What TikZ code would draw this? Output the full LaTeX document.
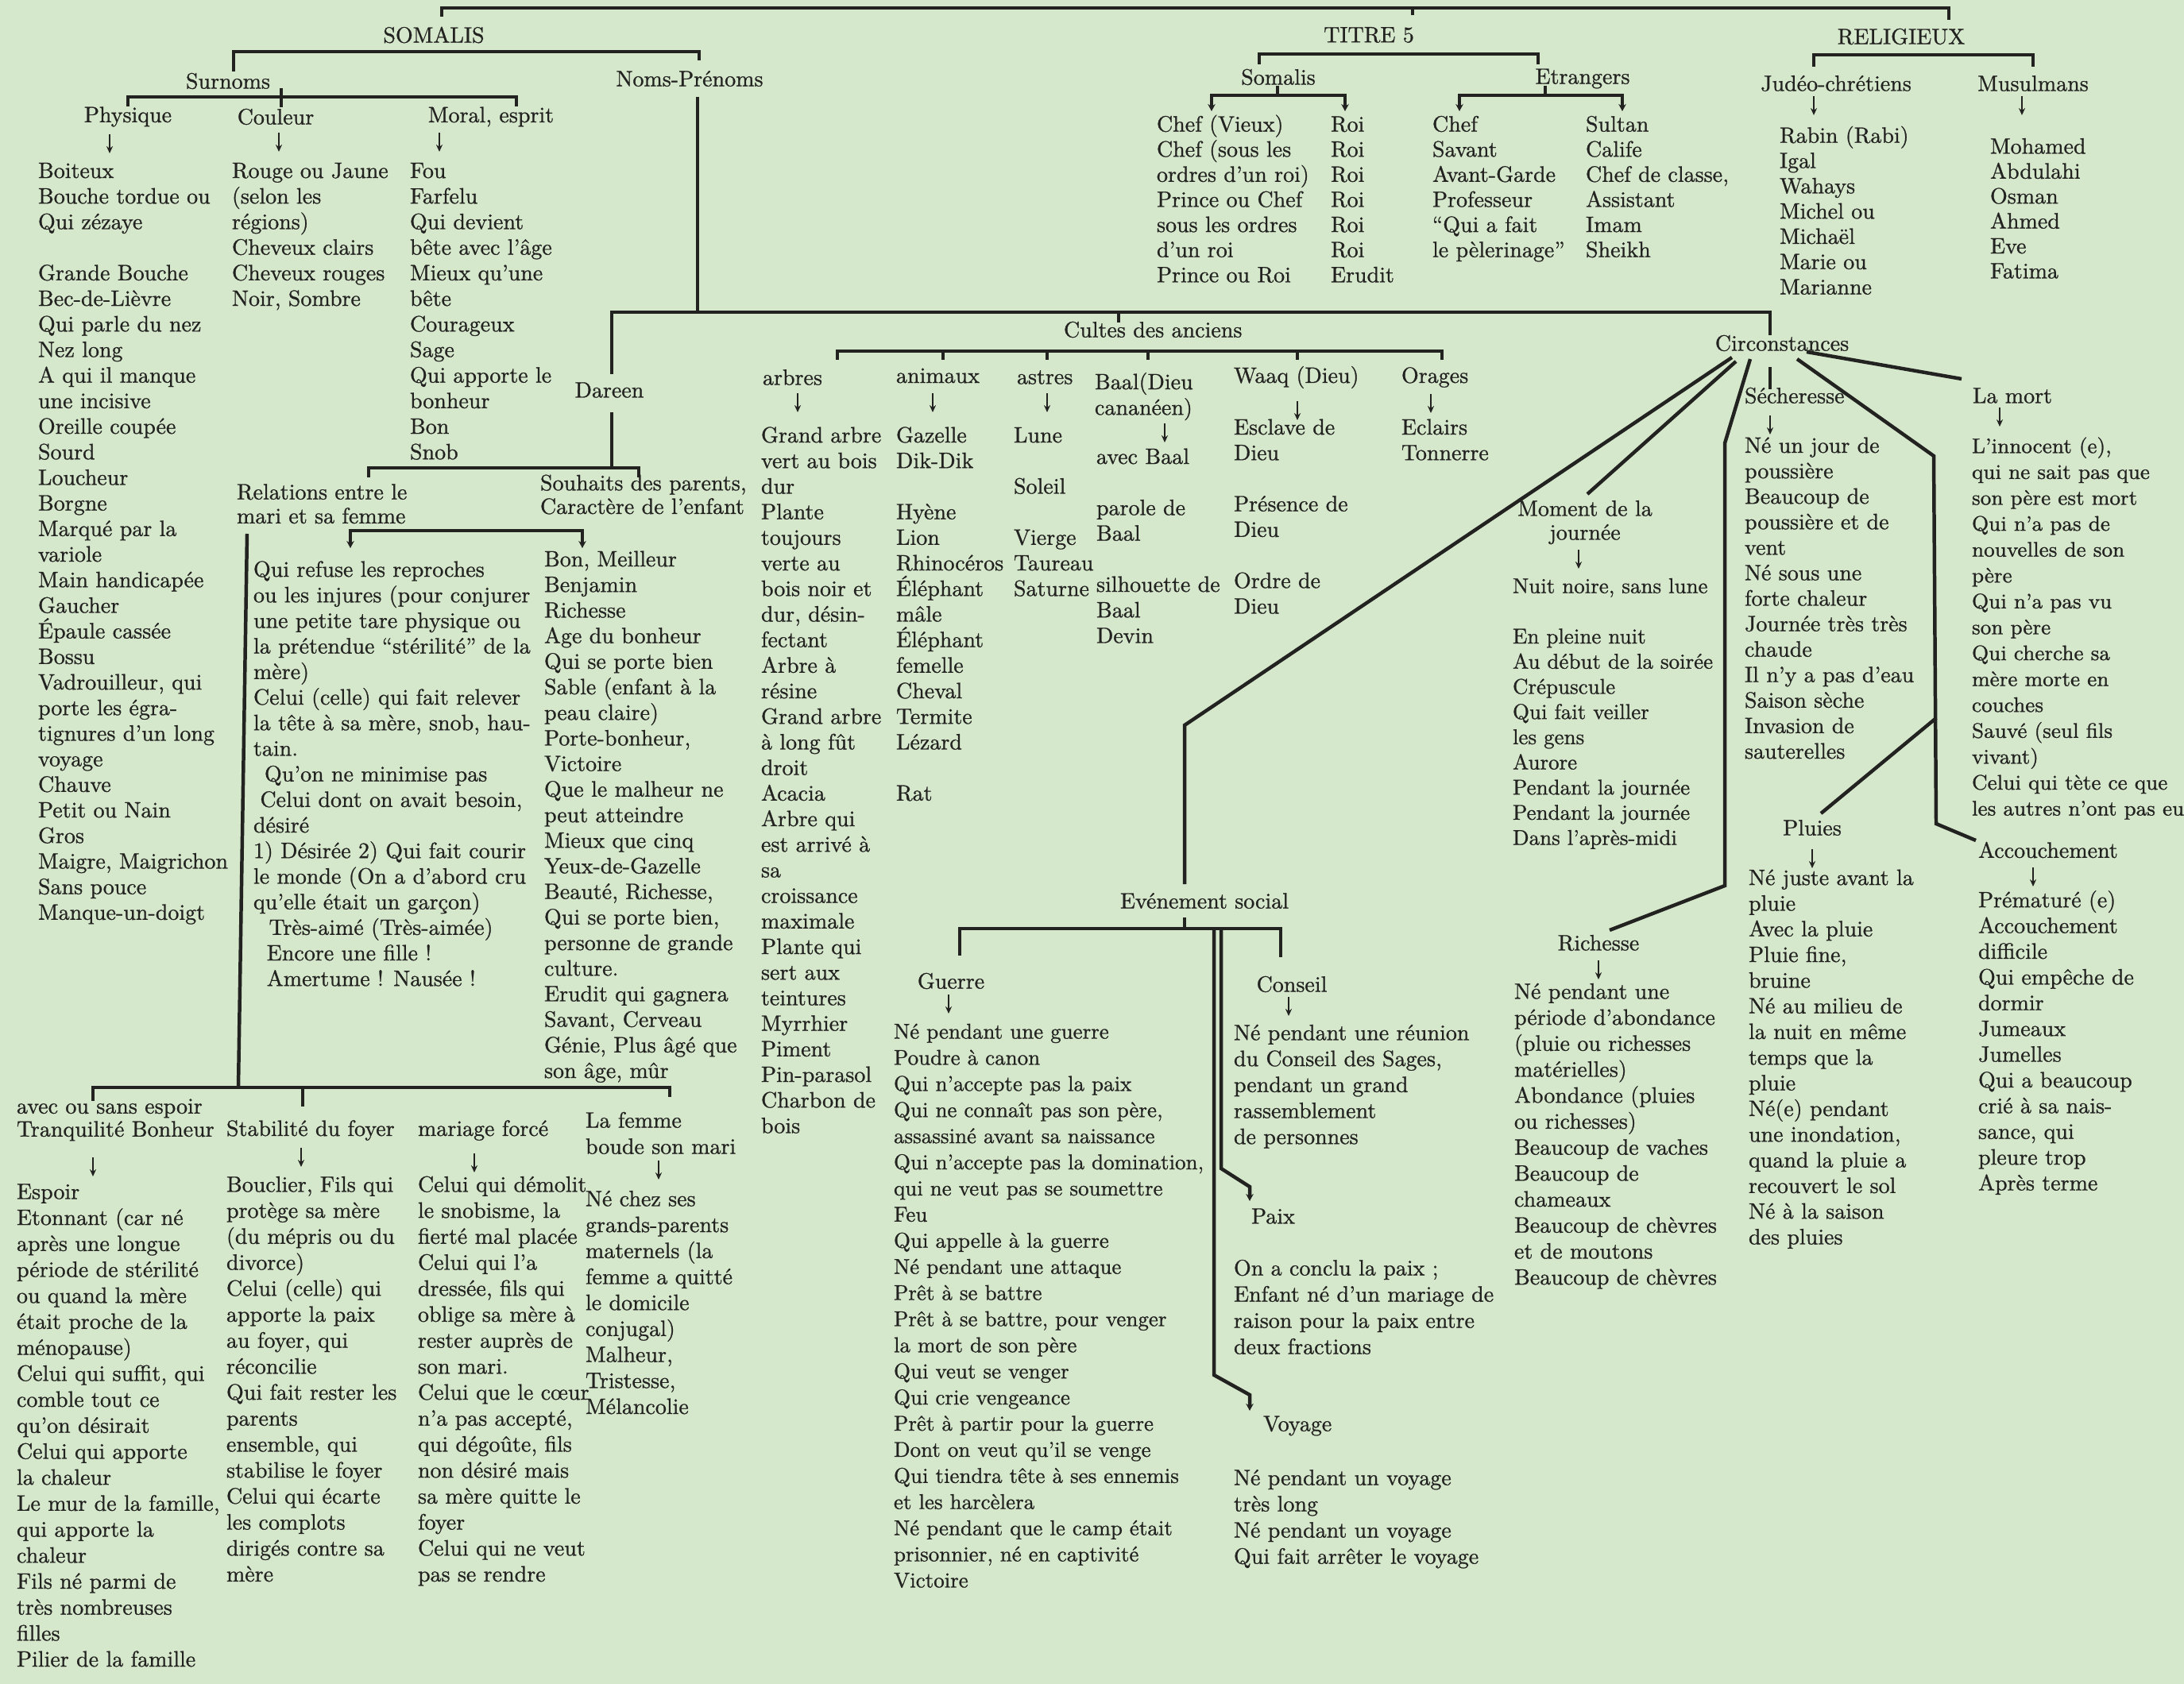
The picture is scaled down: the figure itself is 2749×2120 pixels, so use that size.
\documentclass[tikz,border=0pt]{standalone}
\usepackage{fontspec}
\setmainfont{Latin Modern Roman}[RawFeature={embolden=0.9}]
\usetikzlibrary{arrows.meta}
\definecolor{bg}{HTML}{D6E8CC}
\definecolor{ink}{HTML}{222220}
\newcommand\dnarrow[2]{\draw[arr] (#1,#2-12) -- (#1,#2+12);}
\tikzset{
  sz/.style 2 args={font={\fontsize{#1}{#2}\selectfont\lineskiplimit=-100pt}},
  txt/.style={sz={10}{11.5}, text=ink, inner sep=0pt, outer sep=0pt},
  lst/.style={txt, align=left, anchor=north west, yshift=5.18pt},
  lstc/.style={txt, align=center, anchor=north, yshift=5.18pt},
  hd/.style={txt, anchor=center},
  hdw/.style={txt, anchor=west},
  ln/.style={draw=ink, line width=1.6pt, line join=miter},
  tip/.style={arrows={-Stealth[length=3.2pt,width=3.4pt]}},
  tips/.style={arrows={Stealth[length=3.2pt,width=3.4pt]-Stealth[length=3.2pt,width=3.4pt]}},
  arr/.style={draw=ink, line width=0.8pt, arrows={-Stealth[length=3.2pt,width=2.9pt]}},
}
\begin{document}
\begin{tikzpicture}[x=0.35714pt,y=-0.35714pt]
\path[use as bounding box, fill=bg] (0,0) rectangle (2749,2120);

% ---------- top level ----------
\draw[ln] (556,21) -- (556,10) -- (2453,10) -- (2453,25);
\draw[ln] (1778,10) -- (1778,19);
\node[hd] (somalis) at (546,44) {SOMALIS};
\node[hd] (titre) at (1723,44) {TITRE 5};
\node[hd] (relig) at (2393,46) {RELIGIEUX};

% ---------- SOMALIS ----------
\draw[ln] (294,90) -- (294,65) -- (880,65) -- (880,76);
\node[hd] (surnoms) at (287,102) {Surnoms};
\node[hd] (noms) at (868,99) {Noms-Prénoms};
\draw[ln] (161,134) -- (161,122) -- (650,122) -- (650,134);
\draw[ln] (354,111) -- (354,135);
\node[hd] (phys) at (161,147) {Physique};
\node[hd] (coul) at (347,147) {Couleur};
\node[hd] (moral) at (618,147) {Moral, esprit};
\dnarrow{138}{181}
\dnarrow{351}{179}
\dnarrow{553}{179}

\node[lst] (physL) at (48,216) {\strut Boiteux\\Bouche tordue ou\\Qui zézaye\\\mbox{}\\Grande Bouche\\Bec-de-Lièvre\\Qui parle du nez\\Nez long\\A qui il manque\\une incisive\\Oreille coupée\\Sourd\\Loucheur\\Borgne\\Marqué par la\\variole\\Main handicapée\\Gaucher\\Épaule cassée\\Bossu\\Vadrouilleur, qui\\porte les égra-\\tignures d'un long\\voyage\\Chauve\\Petit ou Nain\\Gros\\Maigre, Maigrichon\\Sans pouce\\Manque-un-doigt};
\node[lst] (coulL) at (292,216) {\strut Rouge ou Jaune\\(selon les\\régions)\\Cheveux clairs\\Cheveux rouges\\Noir, Sombre};
\node[lst] (moralL) at (516,216) {\strut Fou\\Farfelu\\Qui devient\\bête avec l'âge\\Mieux qu'une\\bête\\Courageux\\Sage\\Qui apporte le\\bonheur\\Bon\\Snob};

% ---------- Noms-Prenoms trunk ----------
\draw[ln] (878,122) -- (878,393);
\draw[ln] (770,471) -- (770,393) -- (2228,393) -- (2228,422);
\draw[ln] (1408,393) -- (1408,406);
\node[hdw] (cultes) at (1339,415) {Cultes des anciens};

% ---------- Dareen ----------
\node[hd] (dareen) at (767,491) {Dareen};
\draw[ln] (770,519) -- (770,589);
\draw[ln] (464,601) -- (464,589) -- (804,589) -- (804,601);
\node[lst, sz={10}{10.8}] (relat) at (298,622) {\strut Relations entre le\\mari et sa femme};
\node[lst, sz={10}{10.6}] (souh) at (680,611) {\strut Souhaits des parents,\\Caractère de l'enfant};
\draw[ln, tips] (441,690) -- (441,668) -- (733,668) -- (733,690);

\node[lst] (relL) at (319,718) {\strut Qui refuse les reproches\\ou les injures (pour conjurer\\une petite tare physique ou\\la prétendue “stérilité” de la\\mère)\\Celui (celle) qui fait relever\\la tête à sa mère, snob, hau-\\tain.\\\hspace*{5pt}Qu'on ne minimise pas\\\hspace*{3pt}Celui dont on avait besoin,\\désiré\\1) Désirée 2) Qui fait courir\\le monde (On a d'abord cru\\qu'elle était un garçon)\\\hspace*{7pt}Très-aimé (Très-aimée)\\\hspace*{6pt}Encore une fille !\\\hspace*{6pt}Amertume ! Nausée !};
\node[lst] (souL) at (685,705) {\strut Bon, Meilleur\\Benjamin\\Richesse\\Age du bonheur\\Qui se porte bien\\Sable (enfant à la\\peau claire)\\Porte-bonheur,\\Victoire\\Que le malheur ne\\peut atteindre\\Mieux que cinq\\Yeux-de-Gazelle\\Beauté, Richesse,\\Qui se porte bien,\\personne de grande\\culture.\\Erudit qui gagnera\\Savant, Cerveau\\Génie, Plus âgé que\\son âge, mûr};

% ---------- lower-left bracket ----------
\draw[ln] (311,672) -- (300,1369);
\draw[ln] (117,1386) -- (117,1369) -- (843,1369) -- (843,1381);
\draw[ln] (381,1369) -- (381,1393);
\node[lst, sz={10}{10.36}] (avec) at (21,1396) {\strut avec ou sans espoir\\Tranquilité Bonheur};
\dnarrow{117}{1469}
\node[lst, sz={10}{11.68}] (espL) at (21,1501) {\strut Espoir\\Etonnant (car né\\après une longue\\période de stérilité\\ou quand la mère\\était proche de la\\ménopause)\\Celui qui suffit, qui\\comble tout ce\\qu'on désirait\\Celui qui apporte\\la chaleur\\Le mur de la famille,\\qui apporte la\\chaleur\\Fils né parmi de\\très nombreuses\\filles\\Pilier de la famille};
\node[hdw] (stab) at (285,1423) {Stabilité du foyer};
\dnarrow{379}{1457}
\node[lst, sz={10}{11.68}] (stabL) at (285,1492) {\strut Bouclier, Fils qui\\protège sa mère\\(du mépris ou du\\divorce)\\Celui (celle) qui\\apporte la paix\\au foyer, qui\\réconcilie\\Qui fait rester les\\parents\\ensemble, qui\\stabilise le foyer\\Celui qui écarte\\les complots\\dirigés contre sa\\mère};
\node[hdw] (mar) at (526,1423) {mariage forcé};
\dnarrow{597}{1464}
\node[lst, sz={10}{11.68}] (marL) at (526,1492) {\strut Celui qui démolit\\le snobisme, la\\fierté mal placée\\Celui qui l'a\\dressée, fils qui\\oblige sa mère à\\rester auprès de\\son mari.\\Celui que le cœur\\n'a pas accepté,\\qui dégoûte, fils\\non désiré mais\\sa mère quitte le\\foyer\\Celui qui ne veut\\pas se rendre};
\node[lst, sz={10}{11.79}] (femme) at (737,1411) {\strut La femme\\boude son mari};
\dnarrow{829}{1473}
\node[lst, sz={10}{11.68}] (femL) at (737,1510) {\strut Né chez ses\\grands-parents\\maternels (la\\femme a quitté\\le domicile\\conjugal)\\Malheur,\\Tristesse,\\Mélancolie};

% ---------- Cultes des anciens ----------
\draw[ln] (1054,453) -- (1054,442) -- (1815,442) -- (1815,453);
\foreach \xx in {1187,1318,1445,1633} \draw[ln] (\xx,442) -- (\xx,453);
\node[hdw] (arbres) at (960,475) {arbres};
\dnarrow{1004}{507}
\node[lst] (arbL) at (958,549) {\strut Grand arbre\\vert au bois\\dur\\Plante\\toujours\\verte au\\bois noir et\\dur, désin-\\fectant\\Arbre à\\résine\\Grand arbre\\à long fût\\droit\\Acacia\\Arbre qui\\est arrivé à\\sa\\croissance\\maximale\\Plante qui\\sert aux\\teintures\\Myrrhier\\Piment\\Pin-parasol\\Charbon de\\bois};
\node[hdw] (anim) at (1128,473) {animaux};
\dnarrow{1174}{507}
\node[lst] (animL) at (1128,549) {\strut Gazelle\\Dik-Dik\\\mbox{}\\Hyène\\Lion\\Rhinocéros\\Éléphant\\mâle\\Éléphant\\femelle\\Cheval\\Termite\\Lézard\\\mbox{}\\Rat};
\node[hdw] (astres) at (1280,475) {astres};
\dnarrow{1318}{507}
\node[lst] (astL) at (1276,549) {\strut Lune\\\mbox{}\\Soleil\\\mbox{}\\Vierge\\Taureau\\Saturne};
\node[lst] (baal) at (1378,482) {\strut Baal(Dieu\\cananéen)};
\dnarrow{1466}{545}
\node[lst] (baalL) at (1380,576) {\strut avec Baal\\\mbox{}\\parole de\\Baal\\\mbox{}\\silhouette de\\Baal\\Devin};
\node[hdw] (waaq) at (1553,475) {Waaq (Dieu)};
\dnarrow{1633}{517}
\node[lst] (waaqL) at (1553,539) {\strut Esclave de\\Dieu\\\mbox{}\\Présence de\\Dieu\\\mbox{}\\Ordre de\\Dieu};
\node[hdw] (orages) at (1764,475) {Orages};
\dnarrow{1801}{508}
\node[lst] (oragL) at (1764,539) {\strut Eclairs\\Tonnerre};

% ---------- TITRE 5 ----------
\draw[ln] (1585,81) -- (1585,68) -- (1936,68) -- (1936,81);
\node[hd] (tsom) at (1609,97) {Somalis};
\node[hd] (tetr) at (1992,99) {Etrangers};
\draw[ln] (1608,108) -- (1608,120);
\draw[ln, tips] (1525,140) -- (1525,120) -- (1693,120) -- (1693,140);
\draw[ln] (1945,108) -- (1945,120);
\draw[ln, tips] (1837,140) -- (1837,120) -- (2042,120) -- (2042,140);
\node[lst, sz={10}{11.29}] (tsomL) at (1456,158) {\strut Chef (Vieux)\\Chef (sous les\\ordres d'un roi)\\Prince ou Chef\\sous les ordres\\d'un roi\\Prince ou Roi};
\node[lst, sz={10}{11.29}] (roiL) at (1675,158) {\strut Roi\\Roi\\Roi\\Roi\\Roi\\Roi\\Erudit};
\node[lst, sz={10}{11.29}] (tetL) at (1803,158) {\strut Chef\\Savant\\Avant-Garde\\Professeur\\“Qui a fait\\le pèlerinage”};
\node[lst, sz={10}{11.29}] (tet2L) at (1996,158) {\strut Sultan\\Calife\\Chef de classe,\\Assistant\\Imam\\Sheikh};

% ---------- RELIGIEUX ----------
\draw[ln] (2283,84) -- (2283,69) -- (2559,69) -- (2559,84);
\node[hd] (judeo) at (2311,105) {Judéo-chrétiens};
\node[hd] (musul) at (2559,105) {Musulmans};
\dnarrow{2283}{133}
\dnarrow{2545}{133}
\node[lst, sz={10}{11.36}] (judL) at (2240,172) {\strut Rabin (Rabi)\\Igal\\Wahays\\Michel ou\\Michaël\\Marie ou\\Marianne};
\node[lst, sz={10}{11.21}] (musL) at (2505,186) {\strut Mohamed\\Abdulahi\\Osman\\Ahmed\\Eve\\Fatima};

% ---------- Circonstances ----------
\node[hd] (circ) at (2243,432) {Circonstances};
\draw[ln] (2228,462) -- (2228,490);
\node[hdw] (sech) at (2196,498) {Sécheresse};
\dnarrow{2228}{535}
\node[lst, sz={10}{11.46}] (sechL) at (2196,562) {\strut Né un jour de\\poussière\\Beaucoup de\\poussière et de\\vent\\Né sous une\\forte chaleur\\Journée très très\\chaude\\Il n'y a pas d'eau\\Saison sèche\\Invasion de\\sauterelles};

\draw[ln] (2274,443) -- (2469,477);
\node[hdw] (mort) at (2483,498) {La mort};
\dnarrow{2517}{525}
\node[lst, sz={9.45}{11.64}] (mortL) at (2482,562) {\strut L'innocent (e),\\qui ne sait pas que\\son père est mort\\Qui n'a pas de\\nouvelles de son\\père\\Qui n'a pas vu\\son père\\Qui cherche sa\\mère morte en\\couches\\Sauvé (seul fils\\vivant)\\Celui qui tète ce que\\les autres n'ont pas eu};

\draw[ln] (2262,452) -- (2434,574) -- (2437,1037) -- (2487,1058);
\draw[ln] (2437,904) -- (2292,1024);
\node[hd] (pluies) at (2281,1042) {Pluies};
\dnarrow{2281}{1081}
\node[lst, sz={10}{11.54}] (pluL) at (2201,1106) {\strut Né juste avant la\\pluie\\Avec la pluie\\Pluie fine,\\bruine\\Né au milieu de\\la nuit en même\\temps que la\\pluie\\Né(e) pendant\\une inondation,\\quand la pluie a\\recouvert le sol\\Né à la saison\\des pluies};
\node[hdw] (accou) at (2490,1070) {Accouchement};
\dnarrow{2559}{1104}
\node[lst, sz={10}{11.57}] (accL) at (2490,1134) {\strut Prématuré (e)\\Accouchement\\difficile\\Qui empêche de\\dormir\\Jumeaux\\Jumelles\\Qui a beaucoup\\crié à sa nais-\\sance, qui\\pleure trop\\Après terme};

\draw[ln] (2185,455) -- (1998,622);
\node[lstc, sz={10}{10.71}] (moment) at (1995,643) {\strut Moment de la\\journée};
\dnarrow{1987}{704}
\node[lst, sz={9.64}{11.32}] (momL) at (1904,739) {\strut Nuit noire, sans lune\\\mbox{}\\En pleine nuit\\Au début de la soirée\\Crépuscule\\Qui fait veiller\\les gens\\Aurore\\Pendant la journée\\Pendant la journée\\Dans l'après-midi};

\draw[ln] (2203,452) -- (2171,558) -- (2171,1115) -- (2026,1171);
\node[hd] (rich) at (2012,1187) {Richesse};
\dnarrow{2012}{1221}
\node[lst, sz={10}{11.68}] (richL) at (1906,1249) {\strut Né pendant une\\période d'abondance\\(pluie ou richesses\\matérielles)\\Abondance (pluies\\ou richesses)\\Beaucoup de vaches\\Beaucoup de\\chameaux\\Beaucoup de chèvres\\et de moutons\\Beaucoup de chèvres};

% ---------- Evenement social ----------
\draw[ln] (2180,450) -- (1491,913) -- (1491,1113);
\node[hd] (evt) at (1516,1134) {Evénement social};
\draw[ln] (1491,1155) -- (1491,1169);
\draw[ln] (1208,1203) -- (1208,1169) -- (1612,1169) -- (1612,1205);
\node[hd] (guerre) at (1197,1235) {Guerre};
\dnarrow{1194}{1264}
\node[lst, sz={9.64}{11.75}] (guerL) at (1125,1299) {\strut Né pendant une guerre\\Poudre à canon\\Qui n'accepte pas la paix\\Qui ne connaît pas son père,\\assassiné avant sa naissance\\Qui n'accepte pas la domination,\\qui ne veut pas se soumettre\\Feu\\Qui appelle à la guerre\\Né pendant une attaque\\Prêt à se battre\\Prêt à se battre, pour venger\\la mort de son père\\Qui veut se venger\\Qui crie vengeance\\Prêt à partir pour la guerre\\Dont on veut qu'il se venge\\Qui tiendra tête à ses ennemis\\et les harcèlera\\Né pendant que le camp était\\prisonnier, né en captivité\\Victoire};
\node[hd] (cons) at (1626,1239) {Conseil};
\dnarrow{1622}{1267}
\node[lst, sz={10}{11.68}] (consL) at (1553,1301) {\strut Né pendant une réunion\\du Conseil des Sages,\\pendant un grand\\rassemblement\\de personnes};
\draw[ln, tip] (1537,1169) -- (1537,1471) -- (1573,1494) -- (1573,1512);
\draw[ln, tip] (1528,1169) -- (1528,1731) -- (1573,1756) -- (1573,1776);
\node[hdw] (paix) at (1575,1531) {Paix};
\node[lst, sz={10}{11.79}] (paixL) at (1553,1597) {\strut On a conclu la paix ;\\Enfant né d'un mariage de\\raison pour la paix entre\\deux fractions};
\node[hdw] (voy) at (1590,1795) {Voyage};
\node[lst, sz={10}{11.79}] (voyL) at (1553,1861) {\strut Né pendant un voyage\\très long\\Né pendant un voyage\\Qui fait arrêter le voyage};
\end{tikzpicture}
\end{document}
